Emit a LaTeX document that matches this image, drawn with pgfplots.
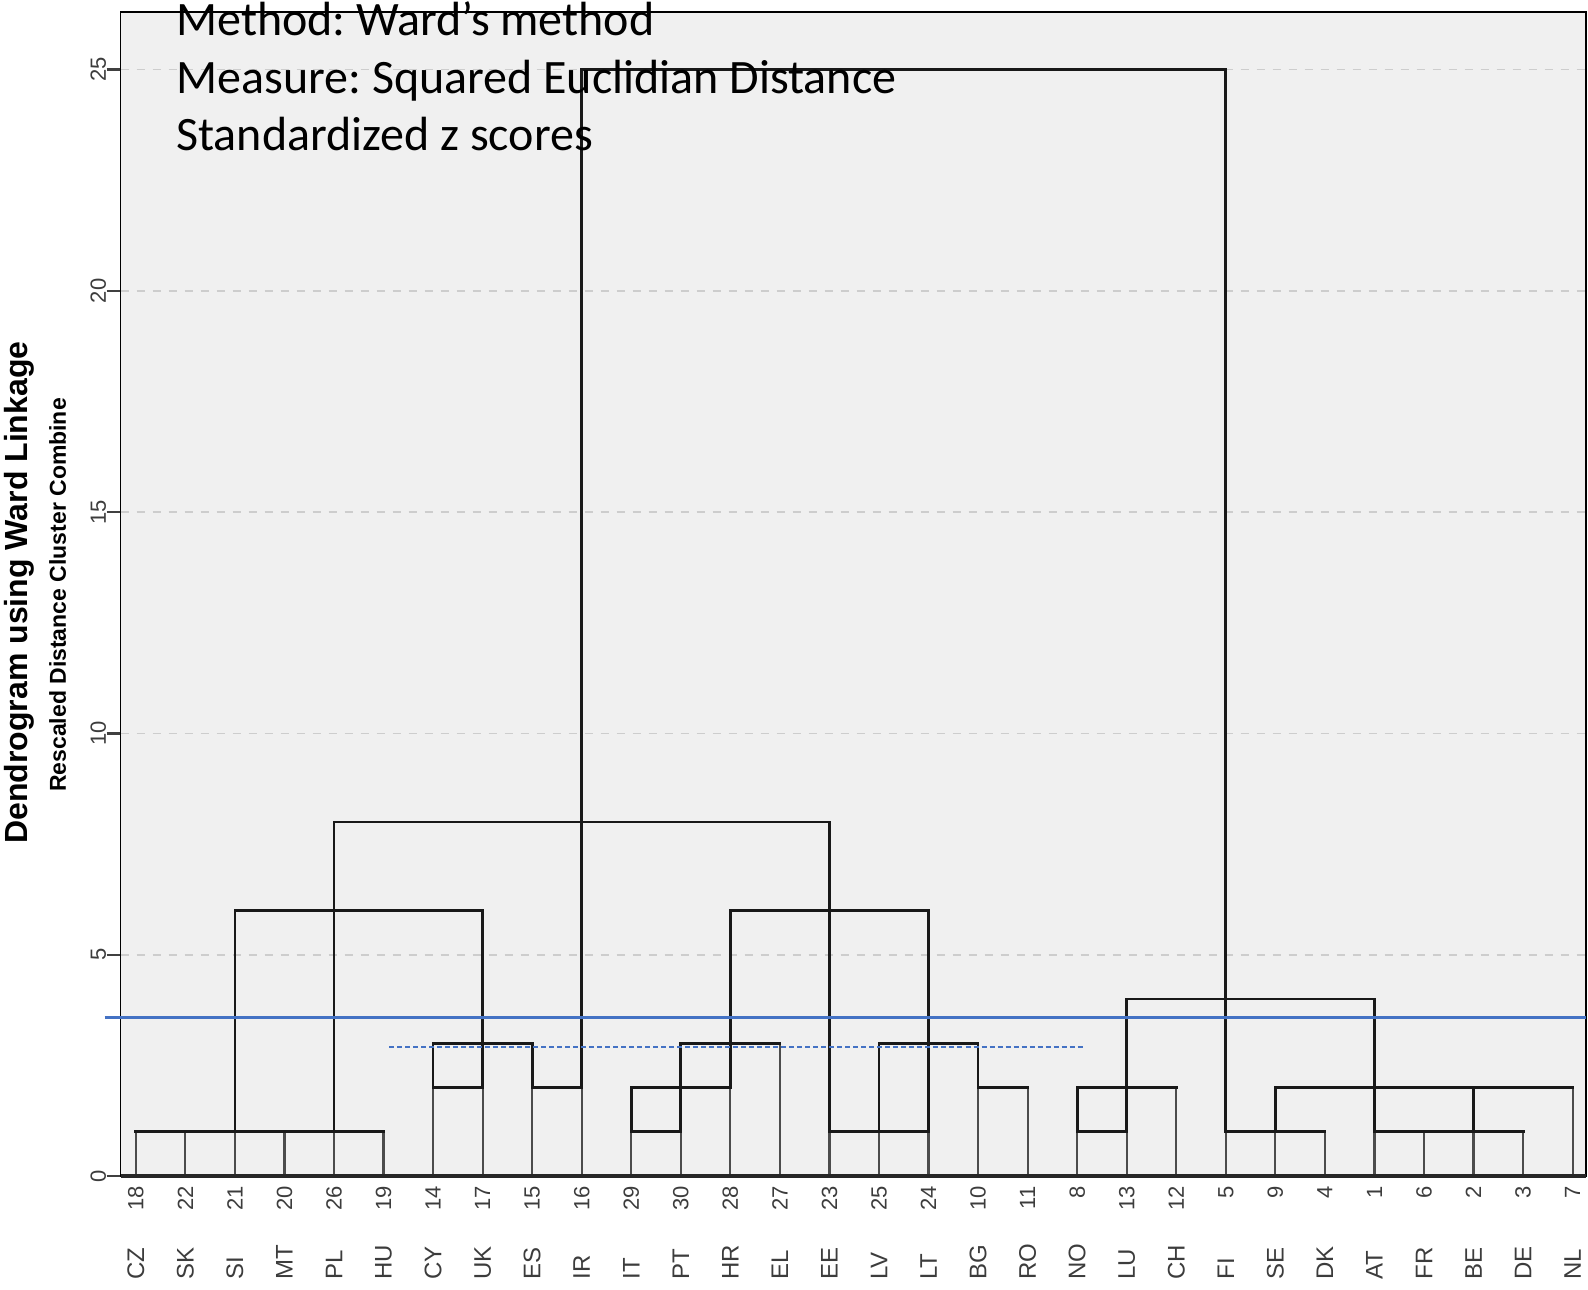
\documentclass[border=0pt]{standalone}
\usepackage{pgfplots}
\pgfplotsset{compat=1.18}
\usepackage{fontspec}
\setmainfont{Liberation Sans}
\newfontfamily\calibri{Carlito}
\frenchspacing
\definecolor{bg}{RGB}{240,240,240}
\definecolor{cutblue}{RGB}{68,114,196}
\definecolor{gridgray}{RGB}{205,205,205}
\definecolor{ticktext}{RGB}{60,60,60}
\begin{document}
\begin{tikzpicture}
\path[use as bounding box] (0,0) rectangle (794pt,644.5pt);
\begin{axis}[
  at={(60.3pt,56.5pt)}, anchor=south west,
  scale only axis, width=732.7pt, height=582pt,
  xmin=-0.307, xmax=29.27, ymin=0, ymax=26.3,
  axis background/.style={fill=bg},
  clip=false,
  axis line style={black, line width=0.8pt},
  xtick={0,...,29},
  xticklabels={18,22,21,20,26,19,14,17,15,16,29,30,28,27,23,25,24,10,11,8,13,12,5,9,4,1,6,2,3,7},
  xtick pos=bottom,
  ytick pos=left,
  xtick style={draw=none},
  ytick={0,5,...,25},
  ytick style={black!75, line width=1.2pt},
  tick align=outside,
  major tick length=7pt,
  ymajorgrids,
  grid style={gridgray, dash pattern=on 4pt off 4pt, line width=0.8pt},
  /pgf/number format/assume math mode=true,
  tick label style={font=\fontsize{11}{13}\selectfont, text=ticktext},
  xticklabel style={rotate=90, anchor=east, inner sep=0pt},
  xticklabel shift=-2pt,
  yticklabel style={rotate=90, anchor=south, inner sep=0pt},
  dend/.style={black!90, line width=1.4pt, line cap=rect, no marks},
  leaf/.style={black!70, line width=1.1pt, no marks},
]
% leaf verticals (from 0 up to the top of each vertical line)
\addplot[leaf, ycomb] coordinates {
 (0,1)(1,1)(2,1)(3,1)(4,1)(5,1)
 (6,2)(7,2)(8,2)(9,2)
 (10,1)(11,1)(12,2)(13,3)
 (14,1)(15,1)(16,1)(17,2)(18,2)
 (19,1)(20,1)(21,2)
 (22,1)(23,1)(24,1)
 (25,1)(26,1)(27,1)(28,1)(29,2)
};
% upper parts of verticals
\addplot[dend] coordinates {(2,1)(2,6)};
\addplot[dend] coordinates {(4,1)(4,8)};
\addplot[dend] coordinates {(6,2)(6,3)};
\addplot[dend] coordinates {(7,2)(7,6)};
\addplot[dend] coordinates {(8,2)(8,3)};
\addplot[dend] coordinates {(9,2)(9,25)};
\addplot[dend] coordinates {(10,1)(10,2)};
\addplot[dend] coordinates {(11,1)(11,3)};
\addplot[dend] coordinates {(12,2)(12,6)};
\addplot[dend] coordinates {(14,1)(14,8)};
\addplot[dend] coordinates {(15,1)(15,3)};
\addplot[dend] coordinates {(16,1)(16,6)};
\addplot[dend] coordinates {(17,2)(17,3)};
\addplot[dend] coordinates {(19,1)(19,2)};
\addplot[dend] coordinates {(20,1)(20,4)};
\addplot[dend] coordinates {(22,1)(22,25)};
\addplot[dend] coordinates {(23,1)(23,2)};
\addplot[dend] coordinates {(25,1)(25,4)};
\addplot[dend] coordinates {(27,1)(27,2)};
% horizontals at height 1
\addplot[dend] coordinates {(0,1)(5,1)};
\addplot[dend] coordinates {(10,1)(11,1)};
\addplot[dend] coordinates {(14,1)(16,1)};
\addplot[dend] coordinates {(19,1)(20,1)};
\addplot[dend] coordinates {(22,1)(24,1)};
\addplot[dend] coordinates {(25,1)(28,1)};
% height 2
\addplot[dend] coordinates {(6,2)(7,2)};
\addplot[dend] coordinates {(8,2)(9,2)};
\addplot[dend] coordinates {(10,2)(12,2)};
\addplot[dend] coordinates {(17,2)(18,2)};
\addplot[dend] coordinates {(19,2)(21,2)};
\addplot[dend] coordinates {(23,2)(29,2)};
% height 3
\addplot[dend] coordinates {(6,3)(8,3)};
\addplot[dend] coordinates {(11,3)(13,3)};
\addplot[dend] coordinates {(15,3)(17,3)};
% height 4
\addplot[dend] coordinates {(20,4)(25,4)};
% height 6
\addplot[dend] coordinates {(2,6)(7,6)};
\addplot[dend] coordinates {(12,6)(16,6)};
% height 8
\addplot[dend] coordinates {(4,8)(14,8)};
% height 25
\addplot[dend] coordinates {(9,25)(22,25)};
% bottom axis line (thicker)
\addplot[black!85, line width=1.6pt, no marks] coordinates {(-0.307,0)(29.27,0)};
% cut lines
\addplot[cutblue, line width=1.6pt, no marks] coordinates {(-0.63,3.59)(29.27,3.59)};
\addplot[cutblue, line width=0.8pt, no marks, dash pattern=on 2.5pt off 1.5pt] coordinates {(5.12,2.91)(19.12,2.91)};
% country codes
\foreach \i/\lab in {0/CZ,1/SK,2/SI,3/MT,4/PL,5/HU,6/CY,7/UK,8/ES,9/IR,10/IT,11/PT,12/HR,13/EL,14/EE,15/LV,16/LT,17/BG,18/RO,19/NO,20/LU,21/CH,22/FI,23/SE,24/DK,25/AT,26/FR,27/BE,28/DE,29/NL}{
  \edef\temp{\noexpand\node[rotate=90, anchor=west, inner sep=0pt, font=\noexpand\fontsize{12}{14}\noexpand\selectfont, text=ticktext] at ([yshift=-52pt]axis cs:\i,0) {\lab};}
  \temp
}
\end{axis}
% annotation
\node[anchor=base west, inner sep=0pt, font=\calibri\fontsize{24}{29}\selectfont] at (88pt,626.8pt) {Method: Ward’s method};
\node[anchor=base west, inner sep=0pt, font=\calibri\fontsize{24}{29}\selectfont] at (88pt,597.9pt) {Measure: Squared Euclidian Distance};
\node[anchor=base west, inner sep=0pt, font=\calibri\fontsize{24}{29}\selectfont] at (88pt,569.0pt) {Standardized z scores};
% axis titles
\node[rotate=90, inner sep=0pt, font=\bfseries\fontsize{16}{19}\selectfont] at (9.5pt,348.2pt) {Dendrogram using Ward Linkage};
\node[rotate=90, inner sep=0pt, font=\bfseries\fontsize{11.5}{14}\selectfont] at (28.8pt,347pt) {Rescaled Distance Cluster Combine};
\end{tikzpicture}
\end{document}
